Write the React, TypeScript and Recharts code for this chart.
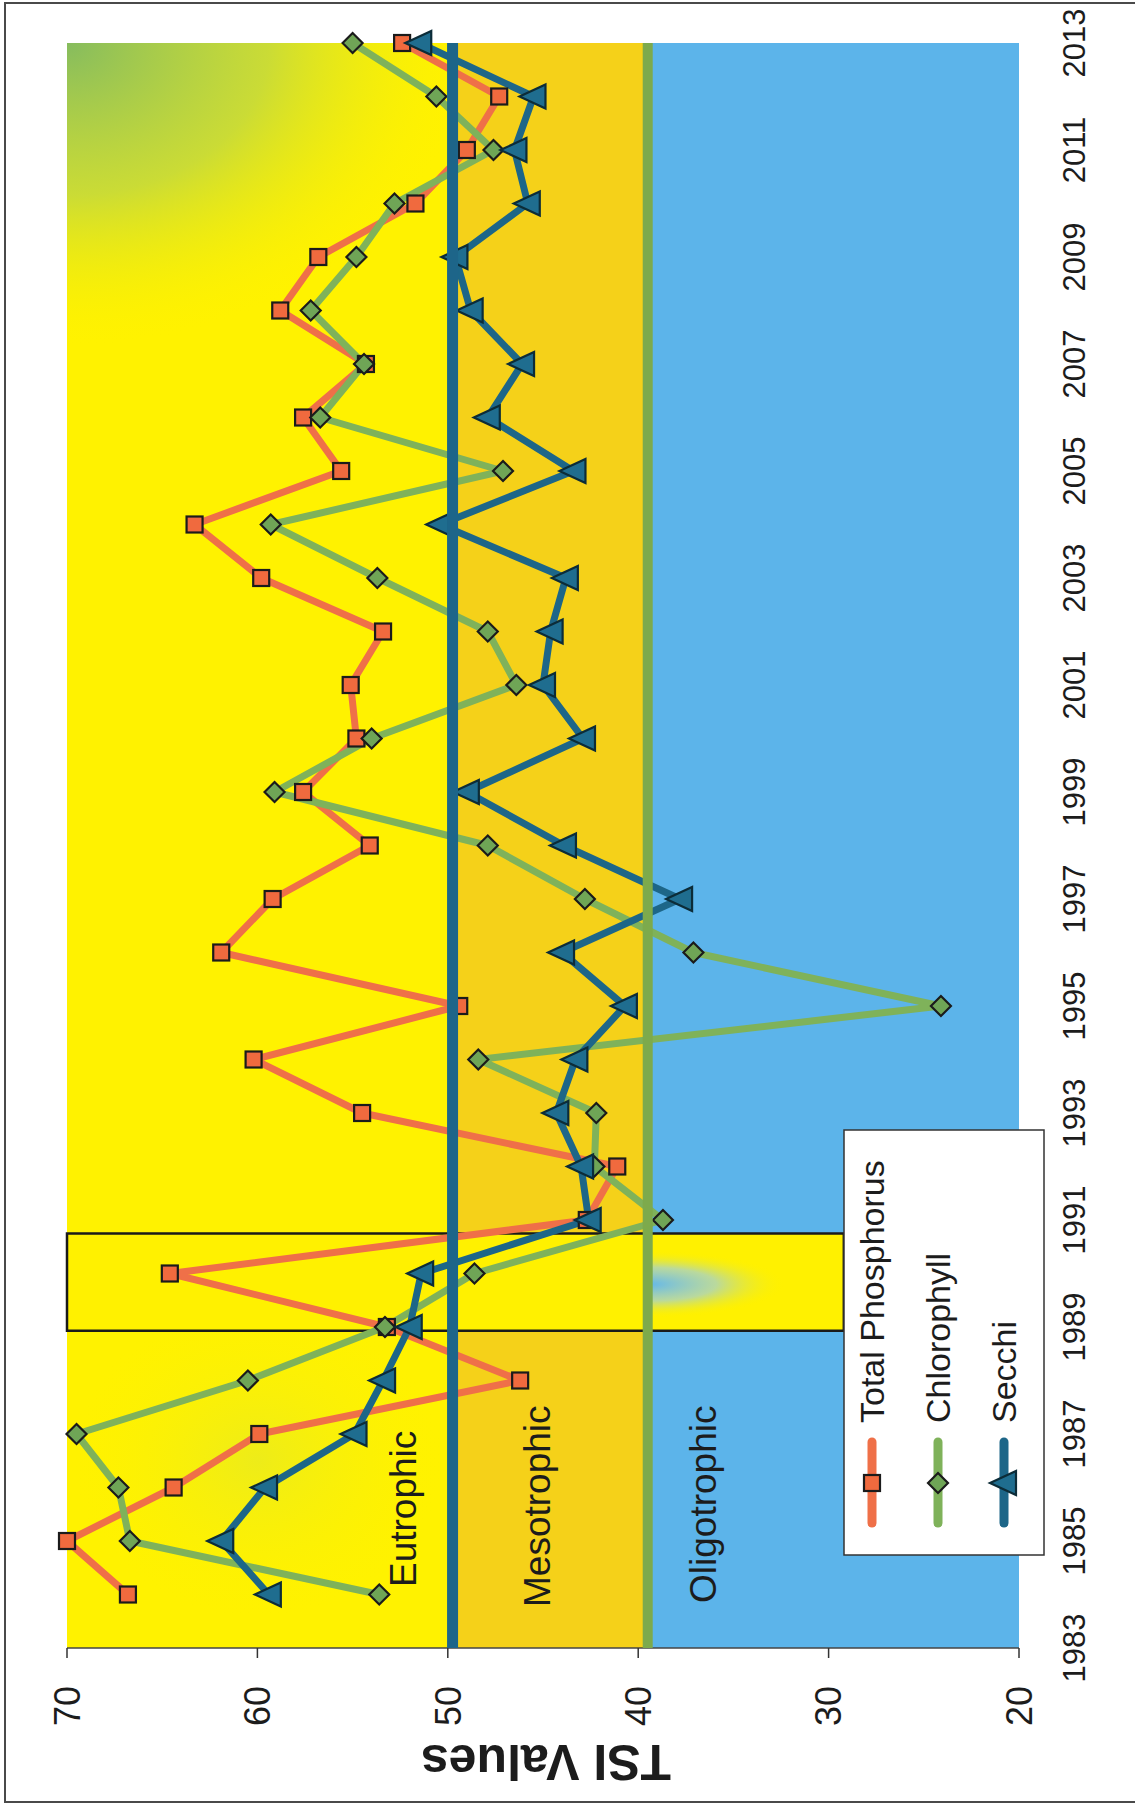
import React from "react";
import {
  Line,
  LineChart,
  ReferenceArea,
  ReferenceLine,
  XAxis,
  YAxis,
} from "recharts";

// TSI values, one point per year
const years = [
  1984, 1985, 1986, 1987, 1988, 1989, 1990, 1991, 1992, 1993, 1994, 1995, 1996,
  1997, 1998, 1999, 2000, 2001, 2002, 2003, 2004, 2005, 2006, 2007, 2008, 2009,
  2010, 2011, 2012, 2013,
];
const totalPhosphorus = [
  66.8, 70.0, 64.4, 59.9, 46.2, 53.2, 64.6, 42.7, 41.1, 54.5, 60.2, 49.4, 61.9,
  59.2, 54.1, 57.6, 54.8, 55.1, 53.4, 59.8, 63.3, 55.6, 57.6, 54.3, 58.8, 56.8,
  51.7, 49.0, 47.3, 52.4,
];
const chlorophyll = [
  53.6, 66.7, 67.3, 69.5, 60.5, 53.3, 48.6, 38.7, 42.3, 42.2, 48.4, 24.1, 37.1,
  42.8, 47.9, 59.1, 54.0, 46.4, 47.9, 53.7, 59.3, 47.1, 56.7, 54.4, 57.2, 54.8,
  52.8, 47.6, 50.6, 55.0,
];
const secchi = [
  59.4, 61.9, 59.6, 54.9, 53.4, 52.0, 51.4, 42.6, 43.0, 44.3, 43.3, 40.7, 44.0,
  37.8, 43.9, 49.0, 42.9, 45.0, 44.6, 43.8, 50.4, 43.4, 47.9, 46.1, 48.8, 49.6,
  45.8, 46.5, 45.5, 51.5,
];

const yearTicks = [
  1983, 1985, 1987, 1989, 1991, 1993, 1995, 1997, 1999, 2001, 2003, 2005, 2007,
  2009, 2011, 2013,
];
const tsiTicks = [20, 30, 40, 50, 60, 70];

// trophic boundaries as drawn
const eutrophicFloor = 49.75;
const oligotrophicTop = 39.5;

const data = years.map((year, i) => ({
  year,
  tp: totalPhosphorus[i],
  chl: chlorophyll[i],
  secchi: secchi[i],
}));

const SERIES = [
  { key: "tp", name: "Total Phosphorus", line: "#EF7048", fill: "#F06A3E", marker: "square" },
  { key: "chl", name: "Chlorophyll", line: "#7FB25A", fill: "#6FA556", marker: "diamond" },
  { key: "secchi", name: "Secchi", line: "#1D6688", fill: "#1F6D8F", marker: "triangle" },
];

// the chart is laid out upright, then the whole sheet is turned a quarter left
const W = 1808;
const H = 1135;
const FONT = "'Liberation Sans', Arial, sans-serif";

function Marker({ kind, cx, cy, fill }: { kind: string; cx: number; cy: number; fill: string }) {
  if (cx == null || cy == null) return null;
  if (kind === "square")
    return (
      <rect x={cx - 8} y={cy - 8} width={16} height={16} fill={fill} stroke="#1b1b1b" strokeWidth={2.2} />
    );
  if (kind === "diamond")
    return (
      <path
        d={`M${cx},${cy - 10} L${cx + 10},${cy} L${cx},${cy + 10} L${cx - 10},${cy} Z`}
        fill={fill}
        stroke="#1b1b1b"
        strokeWidth={2.2}
      />
    );
  return (
    <path
      d={`M${cx},${cy - 14} L${cx + 12},${cy + 12} L${cx - 12},${cy + 12} Z`}
      fill={fill}
      stroke="#0c2c38"
      strokeWidth={2.2}
    />
  );
}

function Gradients() {
  return (
    <svg width={0} height={0} style={{ position: "absolute" }}>
      <defs>
        <radialGradient
          id="eutroGreen"
          cx={1}
          cy={0}
          r={1}
          gradientTransform="translate(1 0) scale(0.19 1.05) translate(-1 0)"
        >
          <stop offset="0" stopColor="#86BC5E" stopOpacity={1} />
          <stop offset="0.5" stopColor="#B4D24C" stopOpacity={0.7} />
          <stop offset="1" stopColor="#FFF200" stopOpacity={0} />
        </radialGradient>
        <radialGradient id="eutroTint" cx={0.5} cy={0.5} r={0.5}>
          <stop offset="0" stopColor="#D3E33E" stopOpacity={0.4} />
          <stop offset="1" stopColor="#FFF200" stopOpacity={0} />
        </radialGradient>
        <radialGradient
          id="smudge"
          cx={0.5}
          cy={0}
          r={1}
          gradientTransform="translate(0.5 0) scale(0.45 0.9) translate(-0.5 0)"
        >
          <stop offset="0" stopColor="#62B7EA" stopOpacity={1} />
          <stop offset="0.5" stopColor="#9CCFE0" stopOpacity={0.7} />
          <stop offset="1" stopColor="#FFF100" stopOpacity={0} />
        </radialGradient>
      </defs>
    </svg>
  );
}

function Overlay() {
  const rows = [872, 938, 1004];
  return (
    <svg
      width={W}
      height={H}
      style={{ position: "absolute", left: 0, top: 0, pointerEvents: "none" }}
      fontFamily={FONT}
    >
      <text x={221} y={416} fontSize={37} fill="#1c1c1c">
        Eutrophic
      </text>
      <text x={201} y={550} fontSize={37} fill="#1c1c1c">
        Mesotrophic
      </text>
      <text x={205} y={716} fontSize={37} fill="#1c1c1c">
        Oligotrophic
      </text>
      <text
        x={63}
        y={546}
        transform="rotate(-90 63 546)"
        textAnchor="middle"
        fontSize={50}
        fontWeight="bold"
        fill="#1c1c1c"
      >
        TSI Values
      </text>

      {/* legend */}
      <rect x={253} y={844} width={425} height={200} fill="#fff" stroke="#333" strokeWidth={1.5} />
      {SERIES.map((s, i) => (
        <g key={s.key}>
          <line
            x1={285}
            x2={366}
            y1={rows[i]}
            y2={rows[i]}
            stroke={s.line}
            strokeWidth={9}
            strokeLinecap="round"
          />
          <Marker kind={s.marker} cx={325} cy={rows[i]} fill={s.fill} />
          <text x={385} y={rows[i] + 12} fontSize={34} fill="#1c1c1c">
            {s.name}
          </text>
        </g>
      ))}
    </svg>
  );
}

export default function App() {
  return (
    <div
      style={{
        position: "absolute",
        left: 0,
        top: 0,
        width: 1135,
        height: 1808,
        overflow: "hidden",
        background: "#fff",
      }}
    >
      <Gradients />
      <div
        style={{
          position: "absolute",
          left: 4,
          top: 2,
          width: 1160,
          height: 1801,
          border: "2px solid #4a4a4a",
          boxSizing: "border-box",
        }}
      />
      <div
        style={{
          position: "absolute",
          left: 0,
          top: 0,
          width: W,
          height: H,
          transformOrigin: "0 0",
          transform: `translate(0px, ${W}px) rotate(-90deg)`,
        }}
      >
        <LineChart
          width={W}
          height={H}
          data={data}
          margin={{ top: 67, right: 43, bottom: 0, left: 0 }}
          style={{ fontFamily: FONT }}
        >
          {/* trophic zones */}
          <ReferenceArea x1={1983} x2={2013} y1={eutrophicFloor} y2={70} fill="#FFF200" fillOpacity={1} stroke="none" />
          <ReferenceArea x1={1983} x2={2013} y1={eutrophicFloor} y2={70} fill="url(#eutroGreen)" fillOpacity={1} stroke="none" />
          <ReferenceArea x1={1983.5} x2={1989.5} y1={50} y2={70} fill="url(#eutroTint)" fillOpacity={1} stroke="none" />
          <ReferenceArea x1={1983} x2={2013} y1={oligotrophicTop} y2={eutrophicFloor} fill="#F5D119" fillOpacity={1} stroke="none" />
          <ReferenceArea x1={1983} x2={2013} y1={20} y2={oligotrophicTop} fill="#5CB4EA" fillOpacity={1} stroke="none" />

          {/* highlighted 1989-1991 window */}
          <ReferenceArea x1={1988.93} x2={1990.75} y1={29.2} y2={70} fill="#FFF100" fillOpacity={1} stroke="#1a1a1a" strokeWidth={2.5} />
          <ReferenceArea x1={1989.1} x2={1990.5} y1={31.5} y2={39.5} fill="url(#smudge)" fillOpacity={1} stroke="none" />

          <XAxis
            dataKey="year"
            type="number"
            domain={[1983, 2013]}
            ticks={yearTicks}
            height={116}
            axisLine={false}
            tickLine={false}
            tickSize={0}
            tickMargin={44}
            tick={{ fontSize: 31, fill: "#1c1c1c" }}
            interval={0}
          />
          <YAxis
            type="number"
            domain={[20, 70]}
            ticks={tsiTicks}
            width={160}
            axisLine={{ stroke: "#444", strokeWidth: 1.5 }}
            tickLine={{ stroke: "#333", strokeWidth: 1.5 }}
            tickSize={10}
            tickMargin={28}
            tick={{ fontSize: 36, fill: "#1c1c1c" }}
            interval={0}
          />

          {SERIES.map((s) => (
            <Line
              key={s.key}
              dataKey={s.key}
              name={s.name}
              type="linear"
              stroke={s.line}
              strokeWidth={7}
              strokeLinejoin="round"
              isAnimationActive={false}
              dot={(p: any) => (
                <Marker key={`${s.key}-${p.index}`} kind={s.marker} cx={p.cx} cy={p.cy} fill={s.fill} />
              )}
              activeDot={false}
            />
          ))}

          <ReferenceLine y={eutrophicFloor} stroke="#1D6589" strokeWidth={11} zIndex={1500} />
          <ReferenceLine y={oligotrophicTop} stroke="#7DAA4C" strokeWidth={10} zIndex={1500} />
        </LineChart>
        <Overlay />
      </div>
    </div>
  );
}
